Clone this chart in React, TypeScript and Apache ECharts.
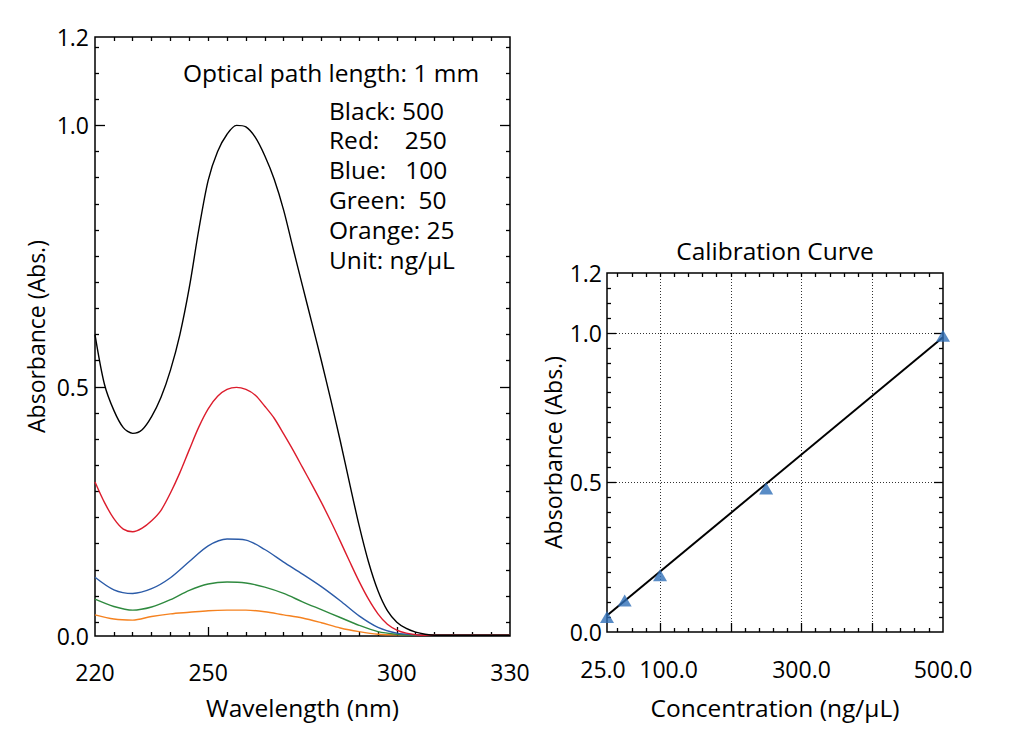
import React, { useEffect, useRef } from "react";
import * as echarts from "echarts";

// ---------- Data ----------
// fine wavelength grid for the two strongest spectra
const wavelengthsFine = [220, 222.5, 225, 227.5, 230, 232.5, 235, 237.5, 240, 242.5, 245, 247.5, 250, 252.5, 255, 257.5, 260, 262.5, 265, 267.5, 270, 272.5, 275, 277.5, 280, 282.5, 285, 287.5, 290, 292.5, 295, 297.5, 300, 302.5, 305, 307.5, 310, 315, 320, 325, 330];
const absBlack = [0.6, 0.505, 0.455, 0.422, 0.411, 0.418, 0.443, 0.48, 0.532, 0.6, 0.69, 0.8, 0.895, 0.95, 0.983, 1.0, 0.997, 0.977, 0.942, 0.897, 0.838, 0.765, 0.693, 0.622, 0.55, 0.475, 0.397, 0.315, 0.235, 0.165, 0.11, 0.072, 0.05, 0.038, 0.031, 0.027, 0.025, 0.025, 0.025, 0.025, 0.025];
const absRed = [0.318, 0.279, 0.248, 0.228, 0.223, 0.23, 0.244, 0.264, 0.297, 0.336, 0.38, 0.423, 0.458, 0.482, 0.495, 0.499, 0.495, 0.484, 0.463, 0.44, 0.41, 0.379, 0.346, 0.313, 0.279, 0.243, 0.205, 0.166, 0.128, 0.094, 0.066, 0.046, 0.035, 0.029, 0.026, 0.025, 0.025, 0.025, 0.025, 0.025, 0.025];
// coarse wavelength grid for the weaker spectra
const wavelengths = [220, 225, 230, 235, 240, 245, 250, 255, 260, 265, 270, 275, 280, 285, 290, 295, 300, 305, 310, 315, 320, 325, 330];
const absBlue = [0.136, 0.112, 0.105, 0.114, 0.135, 0.166, 0.196, 0.209, 0.207, 0.189, 0.165, 0.142, 0.118, 0.091, 0.062, 0.04, 0.029, 0.026, 0.025, 0.025, 0.025, 0.025, 0.025];
const absGreen = [0.094, 0.08, 0.073, 0.079, 0.093, 0.111, 0.123, 0.127, 0.125, 0.117, 0.105, 0.089, 0.074, 0.059, 0.044, 0.032, 0.027, 0.025, 0.025, 0.025, 0.025, 0.025, 0.025];
const absOrange = [0.064, 0.056, 0.054, 0.061, 0.066, 0.069, 0.072, 0.073, 0.073, 0.07, 0.064, 0.058, 0.049, 0.039, 0.032, 0.027, 0.026, 0.026, 0.026, 0.026, 0.026, 0.026, 0.026];

const concentrations = [25, 50, 100, 250, 500];
const calAbs = [0.05, 0.105, 0.19, 0.48, 0.99];
const fitConc = [25, 500];
const fitAbs = [0.055, 0.985];

// axis ranges & tick labels
const leftXMin = 220;
const leftXMax = 330;
const leftXLabels = [220, 250, 300, 330];
const leftXMajor = [250, 300];
const leftYMin = 0.0236;
const leftYMax = 1.169;
const leftYLabels = [leftYMin, 0.5, 1.0, leftYMax];
const leftYMajor = [0.5, 1.0];

const rightXMin = 25;
const rightXMax = 500;
const rightXLabels = [25, 100, 300, 500];
const rightXMajor = [100, 200, 300, 400];
const rightYMin = 0;
const rightYMax = 1.2;
const rightYLabels = [0, 0.5, 1.0, 1.2];
const rightYMajor = [0.5, 1.0];

const legendLines = ["Black: 500", "Red:    250", "Blue:   100", "Green:  50", "Orange: 25", "Unit: ng/μL"];

// ---------- Styles ----------
const FONT = "'Open Sans', 'Noto Sans', sans-serif";
const FS_TEXT = 24.5;
const FS_TICK = 23;
const FS_YNAME = 23;
const COLORS = { black: "#000000", red: "#dc1c2c", blue: "#2b5ba8", green: "#2f8a3f", orange: "#f58220", tri: "#2f6fb8" };

function steps(start: number, end: number, step: number): number[] {
  const out: number[] = [];
  for (let v = start; v <= end + 1e-9; v += step) out.push(Math.round(v * 1e6) / 1e6);
  return out;
}
const notIn = (arr: number[]) => (v: number) => !arr.some((a) => Math.abs(a - v) < 1e-6);

const leftXMinor = steps(225, 325, 5).filter(notIn(leftXMajor));
const leftXAll = steps(225, 325, 5);
const leftYMinor = steps(0.05, 1.15, 0.05).filter(notIn(leftYMajor));
const rightXMinor = steps(40, 480, 20).filter(notIn(rightXMajor));
const rightXAll = steps(40, 480, 20);
const rightYMinor = steps(0.05, 1.15, 0.05).filter(notIn(rightYMajor));

const tickAxis = (
  gridIndex: number,
  position: string,
  min: number,
  max: number,
  ticks: number[],
  len: number,
  extra: any = {}
) => ({
  type: "value",
  gridIndex,
  position,
  min,
  max,
  axisLine: { show: false, onZero: false },
  axisTick: { show: true, inside: true, length: len, customValues: ticks, lineStyle: { color: "#000", width: 1.3 } },
  axisLabel: { show: false },
  splitLine: { show: false },
  ...extra,
});

const tickStyle = { fontFamily: FONT, fontSize: FS_TICK, color: "#000" };
const nameStyle = { fontFamily: FONT, fontSize: FS_TEXT, color: "#000" };
const yNameStyle = { fontFamily: FONT, fontSize: FS_YNAME, color: "#000" };

export default function App() {
  const ref = useRef<HTMLDivElement>(null);
  useEffect(() => {
    if (!ref.current) return;
    const chart = echarts.init(ref.current, undefined, { renderer: "svg" });

    const fmt1 = (v: number) => v.toFixed(1);
    const fmtConc = (v: number) => {
      const s = v.toFixed(1);
      if (Math.abs(v - 25) < 1e-6) return `{l|${s}}`;
      if (Math.abs(v - 100) < 1e-6) return `{r|${s}}`;
      return s;
    };

    const xAxis: any[] = [
      // left grid
      tickAxis(0, "bottom", leftXMin, leftXMax, leftXMinor, 4, {
        name: "Wavelength (nm)",
        nameLocation: "middle",
        nameGap: 59,
        nameTextStyle: { ...nameStyle },
        axisLabel: { show: true, customValues: leftXLabels, margin: 24, ...tickStyle, formatter: (v: number) => String(Math.round(v)) },
      }),
      tickAxis(0, "bottom", leftXMin, leftXMax, leftXMajor, 9),
      tickAxis(0, "top", leftXMin, leftXMax, leftXAll, 4),
      // right grid
      tickAxis(1, "bottom", rightXMin, rightXMax, rightXMinor, 4, {
        name: "Concentration (ng/μL)",
        nameLocation: "middle",
        nameGap: 63,
        nameTextStyle: { ...nameStyle },
        axisLabel: {
          show: true,
          customValues: rightXLabels,
          margin: 25,
          ...tickStyle,
          formatter: fmtConc,
          rich: {
            l: { ...tickStyle, padding: [0, 8, 0, 0] },
            r: { ...tickStyle, padding: [0, 0, 0, 17] },
          },
        },
      }),
      tickAxis(1, "bottom", rightXMin, rightXMax, rightXMajor, 9, {
        splitLine: { show: true, lineStyle: { color: "#333", width: 1, type: [1, 2] } },
      }),
      tickAxis(1, "top", rightXMin, rightXMax, rightXAll, 4),
    ];

    const yAxis: any[] = [
      tickAxis(0, "left", leftYMin, leftYMax, leftYMinor, 4, {
        name: "Absorbance (Abs.)",
        nameLocation: "middle",
        nameGap: 48,
        nameTextStyle: { ...yNameStyle },
        axisLabel: { show: true, customValues: leftYLabels, margin: 6, ...tickStyle, formatter: fmt1 },
      }),
      tickAxis(0, "left", leftYMin, leftYMax, leftYMajor, 10),
      tickAxis(0, "right", leftYMin, leftYMax, leftYMinor, 4),
      tickAxis(0, "right", leftYMin, leftYMax, leftYMajor, 10),
      tickAxis(1, "left", rightYMin, rightYMax, rightYMinor, 4, {
        name: "Absorbance (Abs.)",
        nameLocation: "middle",
        nameGap: 43,
        nameTextStyle: { ...yNameStyle },
        axisLabel: { show: true, customValues: rightYLabels, margin: 5, ...tickStyle, formatter: fmt1 },
      }),
      tickAxis(1, "left", rightYMin, rightYMax, rightYMajor, 9, {
        splitLine: { show: true, lineStyle: { color: "#333", width: 1, type: [1, 2] } },
      }),
      tickAxis(1, "right", rightYMin, rightYMax, rightYMinor, 4),
      tickAxis(1, "right", rightYMin, rightYMax, rightYMajor, 9),
    ];

    const spec = (xs: number[], vals: number[], color: string) => ({
      type: "line",
      xAxisIndex: 0,
      yAxisIndex: 0,
      data: xs.map((w, i) => [w, vals[i]]),
      showSymbol: false,
      smooth: 0.3,
      lineStyle: { color, width: 1.4 },
      itemStyle: { color },
      z: 3,
    });

    const textStyle = (text: string, align = "left") => ({
      text,
      fontFamily: FONT,
      fontSize: FS_TEXT,
      fill: "#000",
      align,
      verticalAlign: "middle",
    });

    const option: any = {
      animation: false,
      backgroundColor: "#ffffff",
      grid: [
        { left: 95, top: 37, width: 415, height: 599, show: true, borderColor: "#000", borderWidth: 1.5, backgroundColor: "transparent", containLabel: false, outerBoundsMode: "none" },
        { left: 607, top: 273, width: 336, height: 359, show: true, borderColor: "#000", borderWidth: 1.5, backgroundColor: "transparent", containLabel: false, outerBoundsMode: "none" },
      ],
      xAxis,
      yAxis,
      series: [
        spec(wavelengths, absOrange, COLORS.orange),
        spec(wavelengths, absGreen, COLORS.green),
        spec(wavelengths, absBlue, COLORS.blue),
        spec(wavelengthsFine, absRed, COLORS.red),
        spec(wavelengthsFine, absBlack, COLORS.black),
        {
          type: "line",
          xAxisIndex: 3,
          yAxisIndex: 4,
          data: fitConc.map((c, i) => [c, fitAbs[i]]),
          showSymbol: false,
          lineStyle: { color: "#000", width: 2 },
          z: 3,
        },
        {
          type: "scatter",
          xAxisIndex: 3,
          yAxisIndex: 4,
          data: concentrations.map((c, i) => [c, calAbs[i]]),
          symbol: "triangle",
          symbolSize: [14, 12],
          itemStyle: { color: COLORS.tri },
          z: 5,
        },
      ],
      graphic: [
        { type: "text", x: 183, y: 72, style: textStyle("Optical path length: 1 mm") },
        ...legendLines.map((t, i) => ({
          type: "text",
          x: 329,
          y: 110 + i * 29.8,
          style: textStyle(t),
        })),
        { type: "text", x: 775, y: 250, style: textStyle("Calibration Curve", "center") },
      ],
    };

    chart.setOption(option);
    return () => chart.dispose();
  }, []);

  return <div ref={ref} style={{ position: "fixed", left: 0, top: 0, width: 1016, height: 737, background: "#fff" }} />;
}
